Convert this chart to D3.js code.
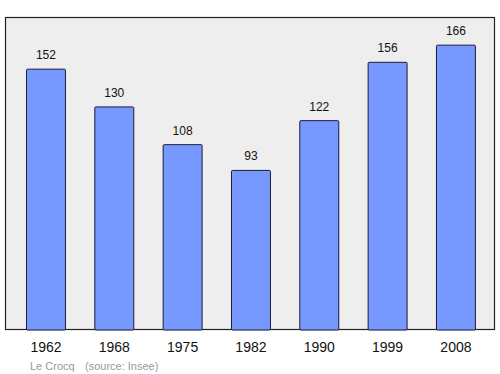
<!doctype html>
<html>
  <head>
    <style>
      body { margin: 0; background: #fff; }
      text { font-family: "Liberation Sans", Arial, sans-serif; }
    </style>
    <script src="https://cdn.jsdelivr.net/npm/d3@7"></script>
  </head>
  <body>
  <script>
    const years = ["1962", "1968", "1975", "1982", "1990", "1999", "2008"],
      population = [152, 130, 108, 93, 122, 156, 166],
      place = "Le Crocq",
      source = "(source: Insee)";

    const width = 500, height = 374,
      frame = {left: 5.5, top: 17.5, right: 494.5, bottom: 329.5};

    const svg = d3.select("body").append("svg")
      .attr("width", width)
      .attr("height", height);

    // grey panel behind the bars
    svg.append("rect")
      .attr("x", frame.left)
      .attr("y", frame.top)
      .attr("width", frame.right - frame.left)
      .attr("height", frame.bottom - frame.top)
      .attr("fill", "#eeeeee")
      .attr("stroke", "#222")
      .attr("stroke-width", 1.2);

    var x = d3.scaleBand()
      .domain(years)
      .range([11.3, 489.6])
      .paddingInner(0.43)
      .paddingOuter(0.215);

    var y = d3.scaleLinear()
      .domain([0, 182.4])
      .range([330, 17]);

    svg.selectAll(".bar")
      .data(years)
      .enter().append("rect")
      .attr("class", "bar")
      .attr("x", function(d) { return x(d) + 0.5; })
      .attr("y", function(d, i) { return y(population[i]); })
      .attr("width", x.bandwidth())
      .attr("height", function(d, i) { return y(0) - y(population[i]); })
      .attr("rx", 1)
      .attr("fill", "#7799ff")
      .attr("stroke", "#1a1a3a")
      .attr("stroke-width", 1);

    svg.selectAll(".val")
      .data(years)
      .enter().append("text")
      .attr("class", "val")
      .attr("x", function(d) { return x(d) + x.bandwidth() / 2 + 0.5; })
      .attr("y", function(d, i) { return y(population[i]) - 10; })
      .attr("text-anchor", "middle")
      .style("font-size", "12px")
      .attr("fill", "#111")
      .text(function(d, i) { return population[i]; });

    svg.selectAll(".year")
      .data(years)
      .enter().append("text")
      .attr("class", "year")
      .attr("x", function(d) { return x(d) + x.bandwidth() / 2 + 0.5; })
      .attr("y", 352)
      .attr("text-anchor", "middle")
      .style("font-size", "14px")
      .attr("fill", "#111")
      .text(function(d) { return d; });

    svg.append("text")
      .attr("x", 30)
      .attr("y", 370)
      .style("font-size", "11px")
      .attr("fill", "#999")
      .text(place);

    svg.append("text")
      .attr("x", 85)
      .attr("y", 370)
      .style("font-size", "11px")
      .attr("fill", "#999")
      .text(source);
  </script>
  </body>
</html>
